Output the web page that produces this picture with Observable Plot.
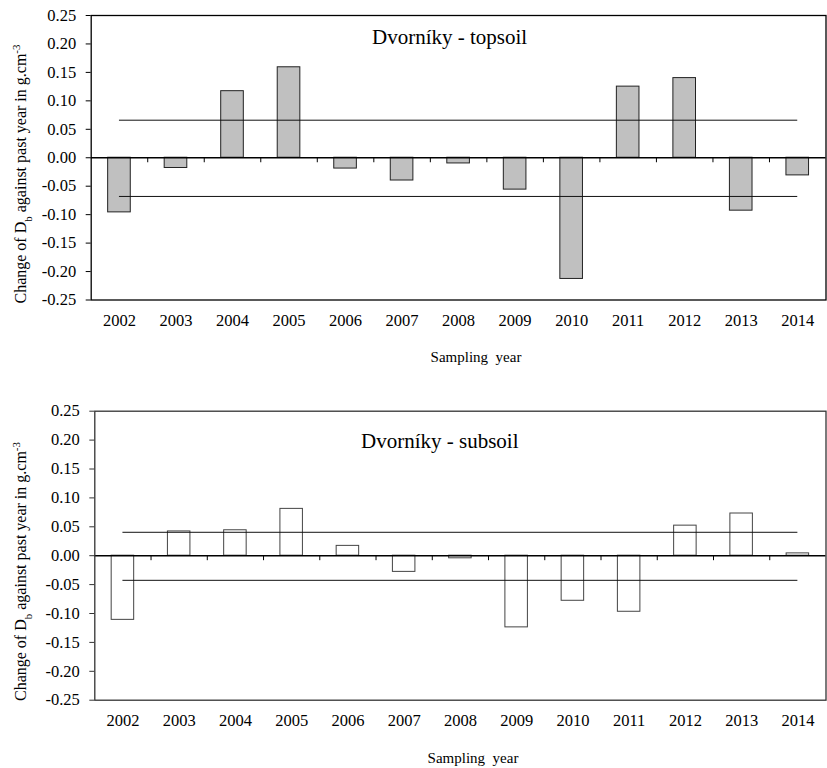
<!DOCTYPE html>
<html>
<head>
<meta charset="utf-8">
<script src="https://cdn.jsdelivr.net/npm/d3@7"></script>
<script src="https://cdn.jsdelivr.net/npm/@observablehq/plot@0.6"></script>
<style>
  body { margin: 0; background: white; }
  #chart svg { display: block; }
  #chart svg, #chart svg text { font-family: "Liberation Serif", "DejaVu Serif", serif !important; }
</style>
</head>
<body>
<div id="chart"></div>
<script>
const years = [2002, 2003, 2004, 2005, 2006, 2007, 2008, 2009, 2010, 2011, 2012, 2013, 2014];
const topsoil = [-0.096, -0.018, 0.117, 0.159, -0.019, -0.040, -0.010, -0.056, -0.213, 0.125, 0.140, -0.093, -0.031];
const subsoil = [-0.111, 0.042, 0.044, 0.081, 0.017, -0.028, -0.0045, -0.124, -0.078, -0.097, 0.052, 0.073, 0.004];
const topLimits = [0.066, -0.068];
const subLimits = [0.0405, -0.0426];
const yTicks = [-0.25, -0.20, -0.15, -0.10, -0.05, 0.00, 0.05, 0.10, 0.15, 0.20, 0.25];
const topTitle = "Dvorníky - topsoil";
const subTitle = "Dvorníky - subsoil";
const xLabel = "Sampling  year";

const FONT = "Liberation Serif";

function makeChart(opts) {
  const data = years.map((year, i) => ({year, value: opts.values[i]}));
  const boundaries = years.slice(0, -1).map(y => y + 0.5);
  const plotH = opts.height - opts.marginTop - opts.marginBottom;
  const tickLen = 5 / plotH * 0.5;
  const svg = Plot.plot({
    width: 827,
    height: opts.height,
    marginLeft: opts.marginLeft,
    marginRight: 1.5,
    marginTop: opts.marginTop,
    marginBottom: opts.marginBottom,
    style: {fontFamily: FONT, fontSize: "16.5px", color: "black", background: "white"},
    x: {domain: [2001.5, 2014.5], axis: null},
    y: {domain: [-0.25, 0.25], axis: null},
    marks: [
      Plot.axisY({ticks: yTicks, tickFormat: d => d.toFixed(2), tickSize: 5, tickPadding: 10, label: null, stroke: opts.frameStroke}),
      Plot.axisX({ticks: years, tickFormat: d => String(d), tickSize: 0, tickPadding: 14, label: null}),
      Plot.rect(data, {x1: d => d.year - 0.2, x2: d => d.year + 0.2, y1: 0, y2: "value", fill: opts.barFill, stroke: opts.barStroke, strokeWidth: 1}),
      Plot.ruleY(opts.limits, {x1: years[0], x2: years[years.length - 1], stroke: "#111", strokeWidth: 1}),
      Plot.ruleY([0], {stroke: "black", strokeWidth: 1.6}),
      Plot.ruleX(boundaries, {y1: 0, y2: -tickLen, stroke: "black", strokeWidth: 1}),
      Plot.frame({stroke: opts.frameStroke, strokeWidth: 1.3})
    ]
  });
  const s = d3.select(svg);
  s.append("text")
    .attr("x", opts.titleX).attr("y", opts.titleY)
    .attr("text-anchor", "start")
    .attr("font-size", 21).attr("fill", "black")
    .text(opts.title);
  s.append("text")
    .attr("x", opts.xLabelX).attr("y", opts.xLabelY)
    .attr("text-anchor", "middle")
    .attr("font-size", 15).attr("fill", "black")
    .style("white-space", "pre")
    .text(xLabel);
  const yl = s.append("text")
    .attr("transform", `translate(26,${opts.yLabelY}) rotate(-90)`)
    .attr("text-anchor", "middle")
    .attr("font-size", 16).attr("fill", "black");
  yl.append("tspan").text("Change of D");
  yl.append("tspan").attr("baseline-shift", "sub").attr("font-size", 11).text("b");
  yl.append("tspan").text(" against past year in g.cm");
  yl.append("tspan").attr("baseline-shift", "super").attr("font-size", 11).text("-3");
  return svg;
}

const root = document.getElementById("chart");
root.appendChild(makeChart({
  values: topsoil, limits: topLimits, title: topTitle,
  height: 384, marginTop: 15, marginBottom: 84.5, marginLeft: 90.7,
  barFill: "#c0c0c0", barStroke: "#222", frameStroke: "black",
  titleX: 372, titleY: 44, xLabelX: 476, xLabelY: 362, yLabelY: 174
}));
root.appendChild(makeChart({
  values: subsoil, limits: subLimits, title: subTitle,
  height: 384, marginTop: 26.7, marginBottom: 68.3, marginLeft: 94.3,
  barFill: "white", barStroke: "#444", frameStroke: "#333",
  titleX: 361, titleY: 64, xLabelX: 473, xLabelY: 379, yLabelY: 187.5
}));
</script>
</body>
</html>
